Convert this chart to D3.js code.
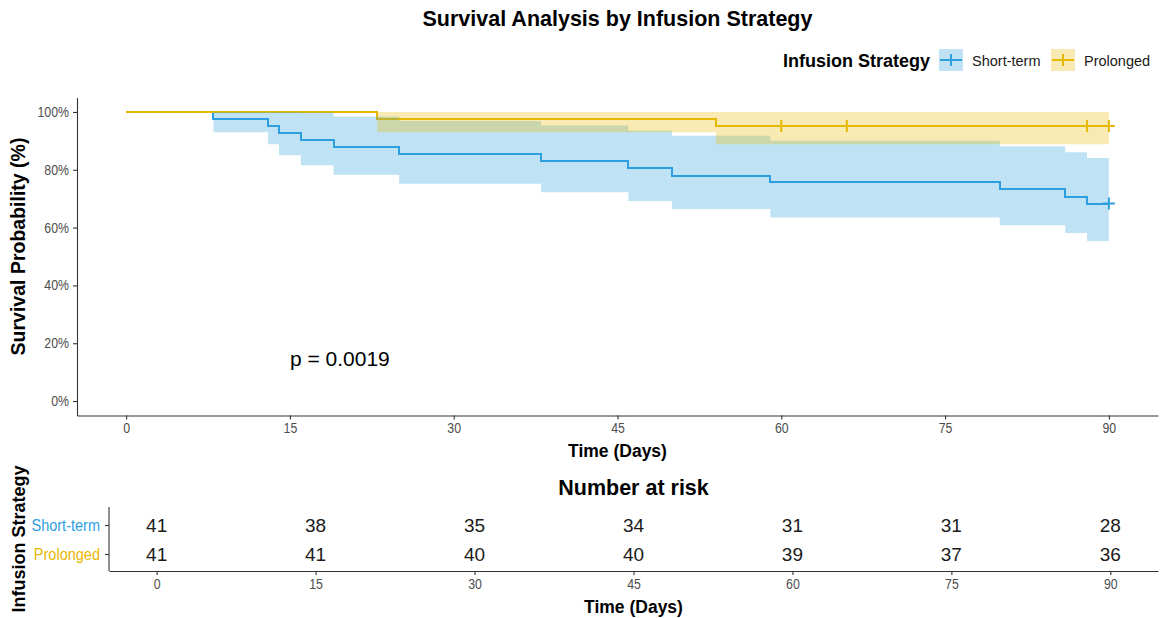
<!DOCTYPE html>
<html>
<head>
<meta charset="utf-8">
<script src="https://cdn.jsdelivr.net/npm/d3@7"></script>
<style>
  body { margin: 0; background: #fff; }
  svg { font-family: "Liberation Sans", Arial, sans-serif; }
</style>
</head>
<body>
<svg id="chart" width="1162" height="618"></svg>
<script>
"use strict";

// survival curves (percent), step values
const timesShort = [0, 8, 13, 14, 16, 19, 25, 38, 46, 50, 59, 80, 86, 88, 90];
const survShort  = [100, 97.6, 95.1, 92.7, 90.2, 87.8, 85.4, 82.9, 80.5, 78.0, 75.6, 73.2, 70.7, 68.3, 68.3];
const lowerShort = [100, 93.0, 88.8, 85.0, 81.6, 78.3, 75.2, 72.2, 69.2, 66.4, 63.5, 60.8, 58.1, 55.4, 55.4];
const upperShort = [100, 100, 100, 100, 99.8, 98.4, 96.9, 95.3, 93.6, 91.8, 90.0, 88.1, 86.1, 84.1, 84.1];
const censorShort = [90];

const timesLong = [0, 23, 54, 90];
const survLong  = [100, 97.6, 95.1, 95.1];
const lowerLong = [100, 93.0, 88.8, 88.8];
const upperLong = [100, 100, 100, 100];
const censorLong = [60, 66, 88, 90];

// number at risk table
const riskTimes = [0, 15, 30, 45, 60, 75, 90];
const riskShort = [41, 38, 35, 34, 31, 31, 28];
const riskLong  = [41, 41, 40, 40, 39, 37, 36];

const xTicks = [0, 15, 30, 45, 60, 75, 90];
const yTicks = [0, 20, 40, 60, 80, 100];
const groups = ["Short-term", "Prolonged"];
const colors = ["#2E9FDF", "#E7B800"];

const svg = d3.select("#chart");

// ---- main plot ----
const pLeft = 77, pRight = 1158, pTop = 97.5, pBottom = 415.5;
const x = d3.scaleLinear().domain([-4.5, 94.5]).range([pLeft, pRight]);
const y = d3.scaleLinear().domain([-5, 105]).range([pBottom, pTop]);

function buildSeries(times, s, lo, hi) {
  return times.map((t, i) => ({ t: t, s: s[i], lo: lo[i], hi: hi[i] }));
}
const series = [
  buildSeries(timesShort, survShort, lowerShort, upperShort),
  buildSeries(timesLong, survLong, lowerLong, upperLong)
];
const censors = [censorShort, censorLong];

const line = d3.line().x(d => x(d.t)).y(d => y(d.s)).curve(d3.curveStepAfter);
const area = d3.area().x(d => x(d.t)).y0(d => y(d.lo)).y1(d => y(d.hi)).curve(d3.curveStepAfter);

// step lines
series.forEach((d, i) => {
  svg.append("path").datum(d)
    .attr("d", line)
    .attr("fill", "none")
    .attr("stroke", colors[i])
    .attr("stroke-width", 2)
    .attr("shape-rendering", "crispEdges");
});

// censor marks
function survAt(d, t) {
  let v = d[0].s;
  d.forEach(p => { if (p.t <= t) v = p.s; });
  return v;
}
series.forEach((d, i) => {
  censors[i].forEach(t => {
    const cx = x(t), cy = y(survAt(d, t));
    svg.append("path")
      .attr("d", `M${cx - 6},${cy}H${cx + 6}M${cx},${cy - 6}V${cy + 6}`)
      .attr("stroke", colors[i])
      .attr("stroke-width", 2);
  });
});

// confidence bands drawn on top, translucent
series.forEach((d, i) => {
  svg.append("path").datum(d)
    .attr("d", area)
    .attr("fill", colors[i])
    .attr("fill-opacity", 0.3)
    .attr("stroke", "none");
});

// axes; tick text squeezed a little to look like the condensed labels
function styleAxis(g, vertical) {
  g.select(".domain").attr("stroke", "#333").attr("stroke-width", 1.1);
  g.selectAll(".tick line").attr("stroke", "#333").attr("stroke-width", 1.1);
  g.selectAll(".tick text")
    .attr("fill", "#4d4d4d").style("font-size", "14px")
    .attr("transform", "scale(0.88,1)");
  if (vertical) g.selectAll(".tick text").attr("x", -8 / 0.88);
}

const xAxis = svg.append("g")
  .attr("transform", `translate(0,${pBottom})`)
  .call(d3.axisBottom(x).tickValues(xTicks).tickSize(4).tickPadding(4).tickSizeOuter(0));
const yAxis = svg.append("g")
  .attr("transform", `translate(${pLeft},0)`)
  .call(d3.axisLeft(y).tickValues(yTicks).tickFormat(d => d + "%").tickSize(4).tickPadding(4).tickSizeOuter(0));
styleAxis(xAxis, false);
styleAxis(yAxis, true);

svg.append("text")
  .attr("x", (pLeft + pRight) / 2).attr("y", 457)
  .attr("text-anchor", "middle")
  .style("font-size", "17.5px").style("font-weight", "bold")
  .text("Time (Days)");

svg.append("text")
  .attr("transform", `translate(25,${(pTop + pBottom) / 2 - 10}) rotate(-90)`)
  .attr("text-anchor", "middle")
  .style("font-size", "19.5px").style("font-weight", "bold")
  .text("Survival Probability (%)");

svg.append("text")
  .attr("x", x(15)).attr("y", 365.5)
  .style("font-size", "21px")
  .text("p = 0.0019");

// title
svg.append("text")
  .attr("x", (pLeft + pRight) / 2).attr("y", 26)
  .attr("text-anchor", "middle")
  .style("font-size", "21.5px").style("font-weight", "bold")
  .text("Survival Analysis by Infusion Strategy");

// legend
const legY = 60;
svg.append("text")
  .attr("x", 930).attr("y", legY + 7)
  .attr("text-anchor", "end")
  .style("font-size", "18px").style("font-weight", "bold")
  .text("Infusion Strategy");
const keyX = [939, 1051];
groups.forEach((g, i) => {
  const kx = keyX[i];
  svg.append("rect")
    .attr("x", kx).attr("y", legY - 11).attr("width", 24).attr("height", 22)
    .attr("fill", colors[i]).attr("fill-opacity", 0.3);
  svg.append("path")
    .attr("d", `M${kx + 1},${legY}H${kx + 23}M${kx + 12},${legY - 6}V${legY + 6}`)
    .attr("stroke", colors[i]).attr("stroke-width", 2);
  svg.append("text")
    .attr("x", kx + 33).attr("y", legY + 6)
    .style("font-size", "14.5px").attr("fill", "#1a1a1a")
    .text(g);
});

// ---- risk table ----
const rLeft = 109, rRight = 1158, rTop = 507, rBottom = 571;
const rx = d3.scaleLinear().domain([-4.5, 94.5]).range([rLeft, rRight]);
const ry = d3.scalePoint().domain(groups).range([525, 554]);

svg.append("text")
  .attr("x", (rLeft + rRight) / 2).attr("y", 495)
  .attr("text-anchor", "middle")
  .style("font-size", "21.5px").style("font-weight", "bold")
  .text("Number at risk");

const riskRows = [riskShort, riskLong];
riskRows.forEach((row, i) => {
  svg.append("g").selectAll("text")
    .data(row)
    .join("text")
    .attr("x", (d, j) => rx(riskTimes[j]))
    .attr("y", ry(groups[i]))
    .attr("dy", "0.36em")
    .attr("text-anchor", "middle")
    .style("font-size", "19px").attr("fill", "#1a1a1a")
    .text(d => d);
});

const rxAxis = svg.append("g")
  .attr("transform", `translate(0,${rBottom})`)
  .call(d3.axisBottom(rx).tickValues(xTicks).tickSize(4).tickPadding(4).tickSizeOuter(0));
const ryAxis = svg.append("g")
  .attr("transform", `translate(${rLeft},0)`)
  .call(d3.axisLeft(ry).tickSize(4).tickPadding(3).tickSizeOuter(0));
ryAxis.select(".domain").attr("d", `M0,${rTop}V${rBottom}`);
styleAxis(rxAxis, false);
styleAxis(ryAxis, true);
ryAxis.selectAll(".tick text")
  .attr("fill", (d, i) => colors[i])
  .style("font-size", "16.5px")
  .attr("x", -9 / 0.88);

svg.append("text")
  .attr("x", (rLeft + rRight) / 2).attr("y", 613)
  .attr("text-anchor", "middle")
  .style("font-size", "17.5px").style("font-weight", "bold")
  .text("Time (Days)");

svg.append("text")
  .attr("transform", `translate(25,${(rTop + rBottom) / 2}) rotate(-90)`)
  .attr("text-anchor", "middle")
  .style("font-size", "18px").style("font-weight", "bold")
  .text("Infusion Strategy");
</script>
</body>
</html>
